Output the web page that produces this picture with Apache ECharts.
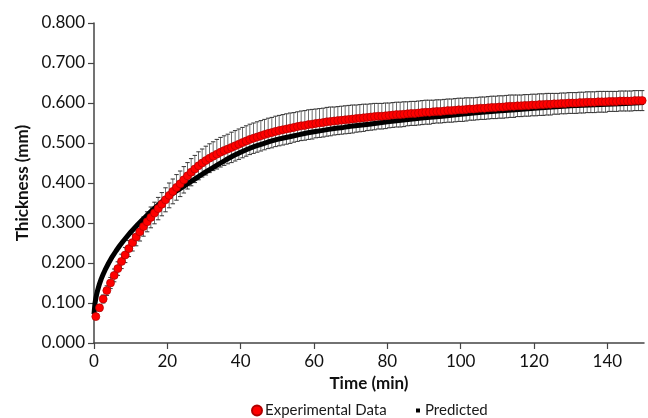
<!DOCTYPE html>
<html>
<head>
<meta charset="utf-8">
<script src="https://cdn.jsdelivr.net/npm/echarts@6/dist/echarts.min.js"></script>
<style>html,body{margin:0;padding:0;background:#fff}#c{width:648px;height:418px}</style>
</head>
<body>
<div id="c"></div>
<script>
const xTicks = [0, 20, 40, 60, 80, 100, 120, 140];
const yTicks = [0, 0.1, 0.2, 0.3, 0.4, 0.5, 0.6, 0.7, 0.8];

const expTime = [
0.5,1.5,2.5,3.5,4.5,5.5,6.5,7.5,8.5,9.5,
10.5,11.5,12.5,13.5,14.5,15.5,16.5,17.5,18.5,19.5,
20.5,21.5,22.5,23.5,24.5,25.5,26.5,27.5,28.5,29.5,
30.5,31.5,32.5,33.5,34.5,35.5,36.5,37.5,38.5,39.5,
40.5,41.5,42.5,43.5,44.5,45.5,46.5,47.5,48.5,49.5,
50.5,51.5,52.5,53.5,54.5,55.5,56.5,57.5,58.5,59.5,
60.5,61.5,62.5,63.5,64.5,65.5,66.5,67.5,68.5,69.5,
70.5,71.5,72.5,73.5,74.5,75.5,76.5,77.5,78.5,79.5,
80.5,81.5,82.5,83.5,84.5,85.5,86.5,87.5,88.5,89.5,
90.5,91.5,92.5,93.5,94.5,95.5,96.5,97.5,98.5,99.5,
100.5,101.5,102.5,103.5,104.5,105.5,106.5,107.5,108.5,109.5,
110.5,111.5,112.5,113.5,114.5,115.5,116.5,117.5,118.5,119.5,
120.5,121.5,122.5,123.5,124.5,125.5,126.5,127.5,128.5,129.5,
130.5,131.5,132.5,133.5,134.5,135.5,136.5,137.5,138.5,139.5,
140.5,141.5,142.5,143.5,144.5,145.5,146.5,147.5,148.5,149.5];

const expThickness = [
0.066,0.088,0.110,0.131,0.150,0.169,0.186,0.204,0.220,0.236,
0.251,0.265,0.278,0.291,0.303,0.314,0.325,0.336,0.347,0.358,
0.369,0.379,0.389,0.398,0.408,0.418,0.427,0.435,0.443,0.450,
0.456,0.462,0.467,0.472,0.477,0.481,0.485,0.489,0.493,0.497,
0.501,0.505,0.509,0.512,0.515,0.518,0.521,0.524,0.526,0.529,
0.531,0.533,0.535,0.537,0.539,0.541,0.543,0.544,0.546,0.547,
0.549,0.550,0.551,0.553,0.554,0.555,0.556,0.557,0.558,0.559,
0.560,0.561,0.562,0.563,0.564,0.565,0.566,0.567,0.567,0.568,
0.569,0.570,0.571,0.571,0.572,0.573,0.574,0.574,0.575,0.576,
0.577,0.577,0.578,0.579,0.579,0.580,0.581,0.581,0.582,0.583,
0.583,0.584,0.585,0.585,0.586,0.587,0.587,0.588,0.589,0.589,
0.590,0.590,0.591,0.592,0.592,0.593,0.593,0.594,0.594,0.595,
0.595,0.596,0.596,0.597,0.597,0.598,0.598,0.599,0.599,0.600,
0.600,0.600,0.601,0.601,0.602,0.602,0.602,0.603,0.603,0.603,
0.604,0.604,0.604,0.605,0.605,0.605,0.605,0.606,0.606,0.606];

const expError = [
0.006,0.008,0.010,0.012,0.014,0.016,0.017,0.018,0.019,0.020,
0.021,0.022,0.023,0.024,0.025,0.026,0.027,0.028,0.029,0.030,
0.031,0.031,0.032,0.032,0.033,0.033,0.034,0.034,0.035,0.035,
0.036,0.036,0.036,0.037,0.037,0.037,0.037,0.038,0.038,0.038,
0.038,0.038,0.038,0.038,0.038,0.038,0.038,0.038,0.038,0.038,
0.038,0.038,0.038,0.038,0.037,0.037,0.037,0.037,0.037,0.037,
0.036,0.036,0.036,0.036,0.036,0.035,0.035,0.035,0.035,0.035,
0.035,0.034,0.034,0.034,0.033,0.033,0.033,0.032,0.032,0.032,
0.031,0.031,0.031,0.031,0.031,0.030,0.030,0.030,0.030,0.030,
0.030,0.030,0.029,0.029,0.029,0.029,0.029,0.029,0.029,0.029,
0.029,0.029,0.028,0.028,0.028,0.028,0.028,0.028,0.028,0.028,
0.028,0.028,0.028,0.028,0.028,0.027,0.027,0.027,0.027,0.027,
0.027,0.027,0.027,0.027,0.027,0.026,0.026,0.026,0.026,0.026,
0.026,0.026,0.026,0.026,0.026,0.026,0.026,0.026,0.026,0.026,
0.025,0.025,0.025,0.025,0.025,0.025,0.025,0.025,0.025,0.025];

const predTime = [0,0.25,0.5,0.75,1,1.5,2,2.5,3,4,5,6,7,8,9,10,11,12,13,14,15,16,17,18,19,20,
22,24,26,28,30,32,34,36,38,40,42,44,46,48,50,52,54,56,58,60,62,64,66,68,70,
75,80,85,90,95,100,105,110,115,120,125,130,135,140,145,150];
const predThickness = [0.072,0.098,0.112,0.123,0.132,0.148,0.161,0.172,0.182,0.200,0.216,0.230,0.243,0.255,0.266,0.277,0.287,0.297,0.306,0.315,0.324,0.333,0.341,0.349,0.357,0.364,
0.377,0.389,0.401,0.413,0.425,0.436,0.447,0.458,0.468,0.477,0.485,0.492,0.498,0.504,0.509,0.513,0.517,0.521,0.525,0.528,0.531,0.534,0.537,0.539,0.542,
0.547,0.553,0.558,0.563,0.567,0.572,0.576,0.580,0.583,0.587,0.590,0.593,0.595,0.597,0.599,0.601];

const FONT = 'Lato';
const expPoints = expTime.map((t, i) => [t, expThickness[i]]);
const errPoints = expTime.map((t, i) => [t, expThickness[i] - expError[i], expThickness[i] + expError[i]]);
const predPoints = predTime.map((t, i) => [t, predThickness[i]]);

const chart = echarts.init(document.getElementById('c'), null, {renderer: 'canvas'});
chart.setOption({
  animation: false,
  backgroundColor: '#fff',
  grid: {left: 94, right: 4, top: 23, bottom: 75, containLabel: false},
  legend: [
    {left: 246, top: 398, itemWidth: 10, itemHeight: 10, itemGap: 0,
     icon: 'circle', data: ['Experimental Data'],
     textStyle: {fontFamily: FONT, fontSize: 15, color: '#1a1a1a', padding: [0,0,0,-2]}},
    {left: 411, top: 398, itemWidth: 4, itemHeight: 4, itemGap: 0,
     icon: 'rect', data: ['Predicted'],
     textStyle: {fontFamily: FONT, fontSize: 15, color: '#1a1a1a', padding: [0,0,0,0]}}
  ],
  xAxis: {
    type: 'value', min: 0, max: 150, interval: 20,
    name: 'Time (min)', nameLocation: 'middle', nameGap: 31,
    nameTextStyle: {fontFamily: FONT, fontSize: 17, fontWeight: 'bold', color: '#111'},
    axisLine: {show: true, lineStyle: {color: '#444', width: 1.5}},
    axisTick: {show: true, length: 6, lineStyle: {color: '#444', width: 1.2}, customValues: xTicks},
    axisLabel: {fontFamily: FONT, fontSize: 17, color: '#111', margin: 10, customValues: xTicks},
    splitLine: {show: false}
  },
  yAxis: {
    type: 'value', min: 0, max: 0.8, interval: 0.1,
    name: 'Thickness (mm)', nameLocation: 'middle', nameGap: 62, nameRotate: 90,
    nameTextStyle: {fontFamily: FONT, fontSize: 17, fontWeight: 'bold', color: '#111'},
    axisLine: {show: true, lineStyle: {color: '#444', width: 1.5}},
    axisTick: {show: true, length: 6, lineStyle: {color: '#444', width: 1.2}, customValues: yTicks},
    axisLabel: {fontFamily: FONT, fontSize: 17, color: '#111', margin: 9, customValues: yTicks,
      formatter: v => v.toFixed(3)},
    splitLine: {show: false}
  },
  series: [
    {
      type: 'custom', name: 'err', z: 1, silent: true, clip: false,
      data: errPoints,
      encode: {x: 0, y: [1, 2]},
      renderItem: function (params, api) {
        const x = api.value(0);
        const lo = api.coord([x, api.value(1)]);
        const hi = api.coord([x, api.value(2)]);
        const hw = 2.2;
        return {
          type: 'group',
          children: [
            {type: 'line', shape: {x1: lo[0], y1: lo[1], x2: hi[0], y2: hi[1]}, style: {stroke: '#6e6e6e', lineWidth: 1}},
            {type: 'line', shape: {x1: hi[0] - hw, y1: hi[1], x2: hi[0] + hw, y2: hi[1]}, style: {stroke: '#333', lineWidth: 1}},
            {type: 'line', shape: {x1: lo[0] - hw, y1: lo[1], x2: lo[0] + hw, y2: lo[1]}, style: {stroke: '#333', lineWidth: 1}}
          ]
        };
      }
    },
    {
      type: 'line', name: 'Predicted', z: 2, data: predPoints,
      showSymbol: false, symbol: 'rect', smooth: false,
      lineStyle: {color: '#000', width: 5},
      itemStyle: {color: '#000'}
    },
    {
      type: 'scatter', name: 'Experimental Data', z: 3, data: expPoints, clip: false,
      symbol: 'circle', symbolSize: 8,
      itemStyle: {color: '#ff0000', borderColor: '#b00000', borderWidth: 0.7, opacity: 1}
    }
  ]
});
</script>
</body>
</html>
